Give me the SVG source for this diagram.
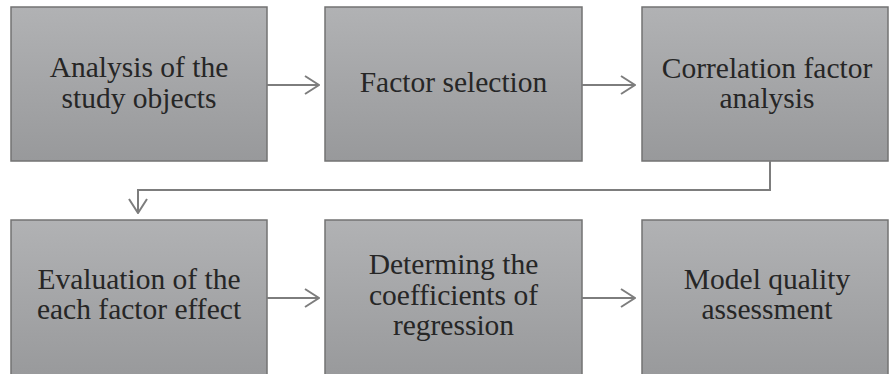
<svg xmlns="http://www.w3.org/2000/svg" width="889" height="374" viewBox="0 0 889 374">
<defs>
<linearGradient id="g" x1="0" y1="0" x2="0" y2="1">
<stop offset="0" stop-color="#b1b2b4"/>
<stop offset="1" stop-color="#98999b"/>
</linearGradient>
<marker id="ah" viewBox="0 0 16 20" refX="15" refY="10" markerWidth="16" markerHeight="20" markerUnits="userSpaceOnUse" orient="auto">
<path d="M1,1 L15,10 L1,19" fill="none" stroke="#7d7d7d" stroke-width="2"/>
</marker>
<style>
.box{fill:url(#g);stroke:#737373;stroke-width:1.5}
.t{font-family:"Liberation Serif","Times New Roman",serif;font-size:29.5px;fill:#262626;text-anchor:middle}
.c{fill:none;stroke:#7d7d7d;stroke-width:2}
</style>
</defs>
<rect width="889" height="374" fill="#ffffff"/>
<g id="n1"><rect class="box" x="11" y="7" width="256" height="154"/><text class="t" x="139" y="77">Analysis of the</text><text class="t" x="139" y="108">study objects</text></g>
<g id="n2"><rect class="box" x="325" y="7" width="257" height="154"/><text class="t" x="453.5" y="92">Factor selection</text></g>
<g id="n3"><rect class="box" x="642" y="7" width="246" height="154"/><text class="t" x="767" y="78">Correlation factor</text><text class="t" x="767" y="108">analysis</text></g>
<g id="n4"><rect class="box" x="11" y="220" width="256" height="160"/><text class="t" x="139" y="289">Evaluation of the</text><text class="t" x="139" y="319">each factor effect</text></g>
<g id="n5"><rect class="box" x="325" y="220" width="257" height="160"/><text class="t" x="453.5" y="274">Determing the</text><text class="t" x="453.5" y="305">coefficients of</text><text class="t" x="453.5" y="335">regression</text></g>
<g id="n6"><rect class="box" x="642" y="220" width="246" height="160"/><text class="t" x="767" y="289">Model quality</text><text class="t" x="767" y="319">assessment</text></g>
<g id="connectors">
<path class="c" d="M267,85 H319" marker-end="url(#ah)"/>
<path class="c" d="M582,85 H635" marker-end="url(#ah)"/>
<path class="c" d="M770,161 V190 H138 V213" marker-end="url(#ah)"/>
<path class="c" d="M267,298 H319" marker-end="url(#ah)"/>
<path class="c" d="M582,298 H635" marker-end="url(#ah)"/>
</g>
</svg>
